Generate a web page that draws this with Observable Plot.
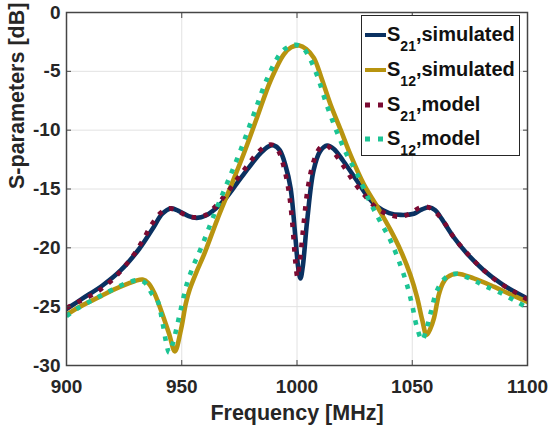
<!DOCTYPE html>
<html>
<head>
<meta charset="utf-8">
<script src="https://cdn.jsdelivr.net/npm/d3@7"></script>
<script src="https://cdn.jsdelivr.net/npm/@observablehq/plot@0.6"></script>
<style>
  body { margin: 0; background: white; }
  #wrap { position: relative; width: 552px; height: 432px; font-family: "Liberation Sans", Arial, sans-serif; font-weight: bold; color: #111; }
  #legend { position: absolute; left: 361px; top: 15px; width: 159px; height: 141px; border: 1px solid #262626; background: white; box-sizing: border-box; }
  .row { position: absolute; left: 2px; height: 30px; display: flex; align-items: center; }
  .row svg { margin-right: 1px; }
  .lab { font-size: 20px; line-height: 20px; white-space: nowrap; }
  .lab sub { font-size: 14px; vertical-align: -10px; line-height: 0; }
</style>
</head>
<body>
<div id="wrap"></div>
<script>
// ---- data ----
const xTicks = [900, 950, 1000, 1050, 1100];
const yTicks = [0, -5, -10, -15, -20, -25, -30];

const f21sim = [900, 907, 915.6, 923.6, 931.5, 937.3, 941.6, 945.3, 949, 953, 956.5, 960.5, 964.5, 969, 974, 979, 984, 987.5, 990, 992.5, 995, 997.2, 999.3, 1000.6, 1001.5, 1002.5, 1004.4, 1007.2, 1010, 1013.1, 1016, 1020, 1026, 1030.5, 1034.8, 1040, 1045, 1050.7, 1054, 1057.2, 1060, 1062.3, 1068, 1073.8, 1081, 1088.3, 1094, 1100];
const s21sim = [-25.2, -24.3, -23.2, -21.9, -20.1, -18.4, -17.1, -16.65, -16.9, -17.3, -17.45, -17.25, -16.7, -15.8, -14.5, -13.2, -12.0, -11.4, -11.3, -11.7, -13.0, -14.9, -19.1, -21.8, -22.6, -21.6, -17.7, -13.4, -11.8, -11.3, -11.6, -12.6, -14.3, -15.6, -16.5, -17.05, -17.2, -17.1, -16.75, -16.55, -16.8, -17.4, -19.1, -20.5, -21.9, -23.0, -23.7, -24.3];

const f12sim = [900, 904, 909.8, 915, 920, 927.2, 930, 933, 935.5, 938, 941, 944.5, 947, 949.6, 951.8, 953.5, 956.5, 959.6, 965.4, 971.1, 976.9, 982.7, 988.5, 994.3, 997.5, 1001, 1004, 1007.3, 1010.5, 1014.5, 1019, 1023.2, 1029, 1034.8, 1040.6, 1044.9, 1049.2, 1052.1, 1054.3, 1056.2, 1057.8, 1059.4, 1061.5, 1063.3, 1065.2, 1069.5, 1076.7, 1085.4, 1092, 1100];
const s12sim = [-25.7, -25.2, -24.6, -24.1, -23.6, -23.0, -22.8, -22.7, -23.0, -23.8, -25.3, -27.3, -28.8, -27.0, -24.7, -23.5, -22.0, -20.6, -17.6, -14.85, -12.0, -8.9, -5.8, -3.55, -2.95, -2.8, -3.1, -3.85, -5.5, -7.8, -10.0, -12.1, -14.6, -16.5, -18.5, -20.2, -22.3, -24.2, -26.1, -27.4, -26.9, -26.0, -24.0, -23.0, -22.5, -22.2, -22.6, -23.3, -23.9, -24.6];

const f21mod = [900, 905, 912, 920, 928, 933, 937, 941, 944.5, 948.5, 952.5, 956.5, 960.5, 964.5, 968.5, 973.5, 978.5, 983, 987, 989.5, 992, 994.5, 996.5, 998, 999.3, 1000.2, 1001.2, 1002.7, 1004.7, 1007.3, 1010, 1012.7, 1016, 1020, 1025, 1030, 1035, 1040, 1045, 1049, 1053, 1056, 1059, 1063, 1068, 1074, 1081, 1088, 1094, 1100];
const s21mod = [-25.1, -24.6, -23.9, -22.7, -20.9, -19.4, -18.0, -17.0, -16.65, -16.9, -17.3, -17.4, -17.2, -16.5, -15.6, -14.3, -13.0, -11.9, -11.3, -11.25, -11.8, -13.3, -15.3, -18.0, -21.2, -22.5, -21.2, -18.3, -14.9, -12.6, -11.5, -11.3, -11.9, -13.0, -14.5, -15.7, -16.7, -17.2, -17.35, -17.1, -16.6, -16.5, -16.8, -17.6, -19.1, -20.5, -21.9, -23.0, -23.7, -24.4];

const f12mod = [900, 904, 909.8, 915, 920, 926, 931.5, 934.5, 937, 939.5, 941.6, 943.3, 944.5, 946, 948, 950.3, 952.3, 955.3, 958.4, 964.2, 969.9, 975.7, 981.5, 987.3, 993.1, 996.5, 999.5, 1002.5, 1005.5, 1009, 1012.8, 1017.2, 1021.4, 1026, 1031.9, 1036.2, 1040.6, 1044.9, 1047.8, 1050, 1052.1, 1054.3, 1056, 1057.9, 1060.8, 1064.4, 1069, 1076, 1081, 1088, 1095.5, 1100];
const s12mod = [-25.8, -25.25, -24.6, -24.05, -23.55, -23.0, -22.75, -23.05, -23.9, -24.5, -26.3, -28.1, -28.9, -28.2, -26.6, -24.6, -23.0, -21.4, -20.0, -17.1, -14.4, -11.6, -8.5, -5.5, -3.4, -2.9, -2.75, -3.0, -3.9, -5.5, -7.8, -10.1, -12.0, -13.7, -16.2, -17.8, -19.4, -21.5, -23.2, -24.9, -26.8, -27.85, -27.0, -25.6, -23.6, -22.55, -22.2, -22.7, -23.2, -23.8, -24.6, -25.1];

const seriesNames = ["S21,simulated", "S12,simulated", "S21,model", "S12,model"];
const seriesColors = ["#0a3161", "#b8940f", "#7a0a32", "#1cc494"];
const xLabel = "Frequency [MHz]";
const yLabel = "S-parameters [dB]";

// ---- build tables ----
const toRows = (fs, vs) => fs.map((f, i) => ({f, v: vs[i]}));
const rows21sim = toRows(f21sim, s21sim);
const rows12sim = toRows(f12sim, s12sim);
const rows21mod = toRows(f21mod, s21mod);
const rows12mod = toRows(f12mod, s12mod);

const LW = 4.6;
const DASH = "4.6,7.6";
const axisCol = "#454545";

const chart = Plot.plot({
  width: 552,
  height: 432,
  marginLeft: 66,
  marginRight: 25,
  marginTop: 12,
  marginBottom: 67,
  style: {fontFamily: "'Liberation Sans', Arial, sans-serif", fontWeight: "bold", background: "white", color: "#262626", overflow: "visible"},
  x: {domain: [900, 1100], axis: null},
  y: {domain: [-30, 0], axis: null},
  marks: [
    Plot.gridX(xTicks, {stroke: "#e2e2e2", strokeOpacity: 1, strokeWidth: 1}),
    Plot.gridY(yTicks, {stroke: "#e2e2e2", strokeOpacity: 1, strokeWidth: 1}),
    Plot.line(rows21sim, {x: "f", y: "v", stroke: seriesColors[0], strokeWidth: LW, curve: "catmull-rom", clip: true}),
    Plot.line(rows12sim, {x: "f", y: "v", stroke: seriesColors[1], strokeWidth: LW, curve: "catmull-rom", clip: true}),
    Plot.line(rows21mod, {x: "f", y: "v", stroke: seriesColors[2], strokeWidth: LW, strokeDasharray: DASH, strokeLinecap: "butt", curve: "catmull-rom", clip: true}),
    Plot.line(rows12mod, {x: "f", y: "v", stroke: seriesColors[3], strokeWidth: LW, strokeDasharray: DASH, strokeLinecap: "butt", curve: "catmull-rom", clip: true}),
    Plot.frame({stroke: axisCol, strokeWidth: 1.5}),
    Plot.axisX(xTicks, {anchor: "bottom", tickSize: -5, tickFormat: () => "", stroke: axisCol, label: null}),
    Plot.axisX(xTicks, {anchor: "top", tickSize: -5, tickFormat: () => "", stroke: axisCol, label: null}),
    Plot.axisY(yTicks, {anchor: "left", tickSize: -5, tickFormat: () => "", stroke: axisCol, label: null}),
    Plot.axisY(yTicks, {anchor: "right", tickSize: -5, tickFormat: () => "", stroke: axisCol, label: null}),
    Plot.axisX(xTicks, {anchor: "bottom", tickSize: 0, tickPadding: 14, fontSize: 19, fill: "#262626", label: null, tickFormat: d => String(d)}),
    Plot.axisY(yTicks, {anchor: "left", tickSize: 0, tickPadding: 6, fontSize: 19, fill: "#262626", label: null, tickFormat: d => String(d)}),
    Plot.text([xLabel], {frameAnchor: "bottom", dy: 39.5, lineAnchor: "top", fontSize: 21.5, fill: "#262626", text: d => d}),
    Plot.text([yLabel], {frameAnchor: "left", rotate: -90, dx: -49, fontSize: 21.5, fill: "#262626", text: d => d})
  ]
});

const wrap = document.getElementById("wrap");
wrap.appendChild(chart);

// ---- legend ----
const legend = document.createElement("div");
legend.id = "legend";
const rowTops = [4, 39, 74, 108];
seriesNames.forEach((name, i) => {
  const row = document.createElement("div");
  row.className = "row";
  row.style.top = (rowTops[i]) + "px";
  const ns = "http://www.w3.org/2000/svg";
  const s = document.createElementNS(ns, "svg");
  s.setAttribute("width", 22);
  s.setAttribute("height", 30);
  const ln = document.createElementNS(ns, "line");
  ln.setAttribute("x1", 1); ln.setAttribute("x2", 22);
  ln.setAttribute("y1", 15); ln.setAttribute("y2", 15);
  ln.setAttribute("stroke", seriesColors[i]);
  ln.setAttribute("stroke-width", i < 2 ? 4 : 5);
  if (i >= 2) ln.setAttribute("stroke-dasharray", "5,8");
  s.appendChild(ln);
  row.appendChild(s);
  const lab = document.createElement("span");
  lab.className = "lab";
  const [head, tail] = name.split(",");
  lab.innerHTML = head[0] + "<sub>" + head.slice(1) + "</sub>," + tail;
  row.appendChild(lab);
  legend.appendChild(row);
});
wrap.appendChild(legend);
</script>
</body>
</html>
